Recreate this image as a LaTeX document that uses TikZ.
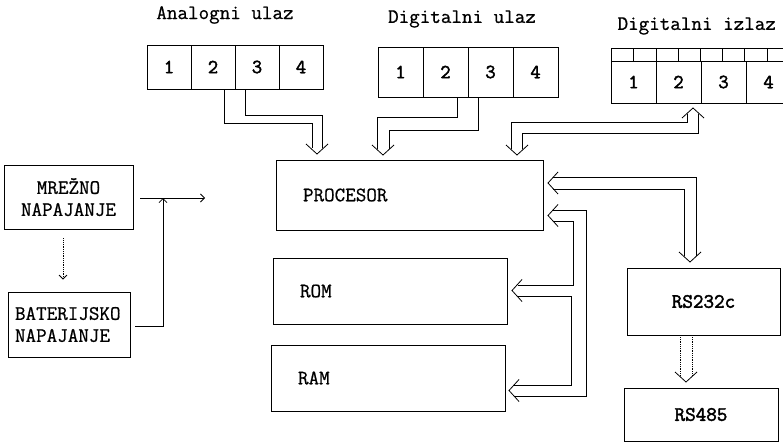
\documentclass[tikz,border=0pt]{standalone}
\usepackage{fontspec}
\usepackage{tikz}
\usetikzlibrary{arrows.meta}
\newfontfamily\mono[FakeBold=0.8]{Latin Modern Mono}
\newfontfamily\monobold[FakeBold=2.2]{Latin Modern Mono}
\newcommand{\bigmono}{\mono\fontsize{20.5}{22}\selectfont}
\tikzset{
  title/.style={font=\bigmono},
  cell/.style={draw,line width=0.8pt,minimum width=44pt,inner sep=0pt,font=\monobold\fontsize{20}{20}\selectfont},
  block/.style={draw,line width=0.8pt,inner xsep=27pt,align=left,text width=#1,font=\bigmono},
  unit/.style={draw,line width=0.8pt,font=\bigmono},
  bus/.style={line width=0.8pt},
  wire/.style={line width=0.8pt,-{Straight Barb[length=4pt,width=8pt]}},
  pics/vhead/.style={code={\draw[bus] (-11,-10) -- (0,0) -- (11,-10);}}
}

\begin{document}
\begin{tikzpicture}[x=1pt,y=-1pt]
		\useasboundingbox (0,0) rectangle (783,447);
		\clip (0,0) rectangle (783,447);
		%
		\node[title] (tain) at (225,15) {Analogni ulaz};
		\node[title] (tdin) at (462,19) {Digitalni ulaz};
		\node[title,anchor=west] (tdout) at (614,26) {Digitalni izlaz};
		%
		\foreach \i in {1,...,4} {
			\node[cell,minimum height=44pt] (a\i) at ({169+(\i-1)*44},67) {\i};
			\node[cell,minimum width=45pt,minimum height=50pt] (d\i) at ({400.5+(\i-1)*45},72) {\i};
			\node[cell,minimum width=45pt,minimum height=42pt] (o\i) at ({633.5+(\i-1)*45},82) {\i};
		}
		\draw[bus] (611,48) rectangle (800,61);
		\foreach \x in {633,678,722,767} \draw[bus] (\x,48) -- (\x,61);
		\foreach \x in {656,700,744} \draw[bus] (\x,48) -- (\x,61);
		%
		\node[block=213pt,minimum height=70pt] (cpu) at (409.5,195) {PROCESOR};
		\node[block=180pt,minimum height=66pt] (rom) at (390,291) {ROM};
		\node[block=180pt,minimum height=66pt] (ram) at (388,378) {RAM};
		\node[unit,minimum width=153pt,minimum height=67pt] (rsa) at (703.5,301.5) {\monobold RS232c};
		\node[unit,minimum width=154pt,minimum height=53pt] (rsb) at (701,414.5) {\monobold RS485};
		\node[unit,align=center,minimum width=129pt,minimum height=64pt] (mrezno) at (68.5,197) {MRE\v{Z}NO\\NAPAJANJE};
		\node[block=108pt,inner xsep=7pt,minimum height=65pt] (baterija) at (69,324.5) {BATERIJSKO\\NAPAJANJE};
		%
		\coordinate (feed) at (205,198);
		\coordinate (join) at (163,198);
		\draw[wire] ([xshift=7pt,yshift=-1pt]mrezno.east) -- (feed);
		\draw[wire] ([xshift=5pt,yshift=-1.5pt]baterija.east) -| (join);
		\draw[wire,densely dotted] ([xshift=-5.5pt,yshift=-9pt]mrezno.south) -- ([xshift=-6pt,yshift=12pt]baterija.north);
		%
		% analogni ulaz -> procesor
		\draw[bus] (224,89) -- (224,123) -- (312,123) -- (312,148);
		\draw[bus] (245,89) -- (245,115) -- (322,115) -- (322,148);
		\pic at (317,154) {vhead};
		% digitalni ulaz -> procesor
		\draw[bus] (457,97) -- (457,117) -- (377,117) -- (377,149);
		\draw[bus] (478,97) -- (478,130) -- (389,130) -- (389,149);
		\pic at (383,155) {vhead};
		% procesor <-> digitalni izlaz
		\draw[bus] (511.5,149) -- (511.5,122) -- (687.5,122) -- (687.5,114);
		\draw[bus] (522.5,149) -- (522.5,133) -- (698.5,133) -- (698.5,114);
		\pic at (517,155) {vhead};
		\pic[rotate=180] at (693,108) {vhead};
		% procesor <-> RS232c
		\draw[bus] (553,177) -- (696,177) -- (696,256);
		\draw[bus] (553,189) -- (684,189) -- (684,256);
		\pic[rotate=-90] at (548,183) {vhead};
		\pic at (690,262) {vhead};
		% procesor <-> ROM, RAM
		\draw[bus] (553,210) -- (586,210) -- (586,396) -- (514,396);
		\draw[bus] (553,221) -- (573,221) -- (573,285) -- (518,285);
		\draw[bus] (518,296) -- (571,296) -- (571,385) -- (514,385);
		\pic[rotate=-90] at (548,215.5) {vhead};
		\pic[rotate=-90] at (512,290.5) {vhead};
		\pic[rotate=-90] at (509,390.5) {vhead};
		% RS232c -> RS485
		\draw[bus,densely dotted] (680,337) -- (680,376);
		\draw[bus,densely dotted] (692,337) -- (692,376);
		\pic at (686,382) {vhead};
	\end{tikzpicture}
\end{document}
